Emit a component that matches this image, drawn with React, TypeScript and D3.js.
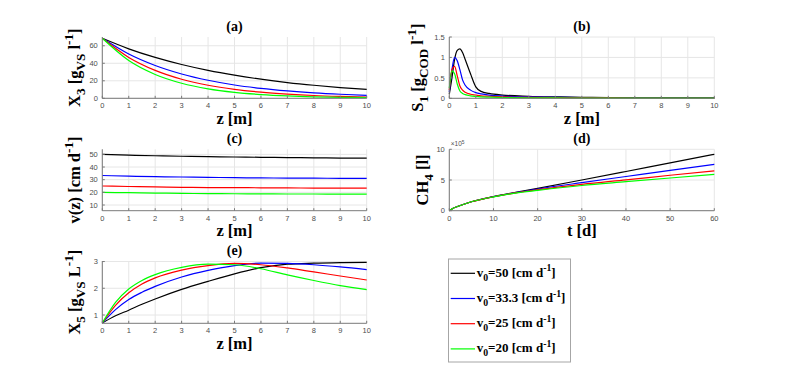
import React from "react";
import * as d3 from "d3";

// line colours, one per inlet velocity
const lineColors = ["#000000", "#0000ff", "#ff0000", "#00ff00"];
const legendSpeeds = ["50", "33.3", "25", "20"];

// (a) X3 along the reactor
const zA = [0, 1, 2, 3, 4, 5, 6, 7, 8, 9, 10];
const x3V50 = [68.5, 56.5, 46.7, 38.6, 31.9, 26.4, 21.8, 18.0, 14.9, 12.3, 10.1];
const x3V33 = [68.5, 50.6, 37.5, 27.8, 20.6, 15.2, 11.3, 8.4, 6.2, 4.6, 3.4];
const x3V25 = [68.5, 46.7, 31.9, 21.8, 14.9, 10.2, 7.0, 4.8, 3.2, 2.2, 1.5];
const x3V20 = [68.5, 43.1, 27.2, 17.2, 10.8, 6.8, 4.3, 2.7, 1.7, 1.1, 0.7];

// (b) S1
const zB = [0, 0.1, 0.2, 0.3, 0.4, 0.5, 0.6, 0.8, 1, 1.2, 1.5, 2, 3, 4, 5, 6, 8, 10];
const s1V50 = [0.1, 0.5, 0.95, 1.17, 1.21, 1.12, 0.95, 0.6, 0.28, 0.17, 0.12, 0.08, 0.05, 0.035, 0.025, 0.02, 0.012, 0.01];
const s1V33 = [0.15, 0.7, 1.0, 0.92, 0.7, 0.45, 0.32, 0.2, 0.14, 0.11, 0.08, 0.055, 0.035, 0.025, 0.018, 0.014, 0.01, 0.008];
const s1V25 = [0.2, 0.7, 0.78, 0.55, 0.3, 0.2, 0.15, 0.1, 0.08, 0.06, 0.05, 0.035, 0.022, 0.015, 0.01, 0.008, 0.005, 0.004];
const s1V20 = [0.25, 0.67, 0.6, 0.35, 0.18, 0.12, 0.09, 0.06, 0.045, 0.035, 0.028, 0.02, 0.012, 0.008, 0.006, 0.004, 0.003, 0.002];

// (c) velocity
const zC = [0, 1, 2, 3, 4, 5, 6, 7, 8, 9, 10];
const vV50 = [50, 49.4, 48.9, 48.5, 48.2, 47.9, 47.7, 47.5, 47.3, 47.1, 47.0];
const vV33 = [33.3, 32.8, 32.4, 32.1, 31.8, 31.6, 31.4, 31.3, 31.2, 31.1, 31.0];
const vV25 = [25, 24.6, 24.3, 24.0, 23.8, 23.7, 23.6, 23.5, 23.4, 23.3, 23.3];
const vV20 = [20, 19.7, 19.4, 19.2, 19.0, 18.9, 18.8, 18.7, 18.7, 18.6, 18.6];

// (d) methane, x10^5 l
const tD = [0, 1, 2, 5, 10, 15, 20, 30, 40, 50, 60];
const ch4V50 = [0, 0.45, 0.72, 1.45, 2.3, 3.0, 3.64, 5.0, 6.39, 7.79, 9.18];
const ch4V33 = [0, 0.45, 0.72, 1.45, 2.28, 2.95, 3.53, 4.57, 5.57, 6.57, 7.56];
const ch4V25 = [0, 0.45, 0.72, 1.45, 2.27, 2.9, 3.42, 4.3, 5.03, 5.77, 6.5];
const ch4V20 = [0, 0.45, 0.72, 1.45, 2.26, 2.86, 3.3, 4.1, 4.72, 5.33, 5.93];

// (e) X5
const zE = [0, 0.5, 1, 1.5, 2, 3, 4, 5, 6, 7, 8, 9, 10];
const x5V50 = [0.7, 0.97, 1.18, 1.4, 1.6, 1.96, 2.26, 2.54, 2.77, 2.9, 2.94, 2.96, 2.97];
const x5V33 = [0.7, 1.2, 1.58, 1.85, 2.07, 2.42, 2.67, 2.85, 2.94, 2.93, 2.88, 2.8, 2.7];
const x5V25 = [0.7, 1.36, 1.83, 2.16, 2.39, 2.68, 2.85, 2.93, 2.88, 2.76, 2.61, 2.46, 2.31];
const x5V20 = [0.7, 1.47, 1.97, 2.29, 2.51, 2.78, 2.9, 2.88, 2.73, 2.5, 2.29, 2.1, 1.95];

const zTicks = [0, 1, 2, 3, 4, 5, 6, 7, 8, 9, 10];
const tTicks = [0, 10, 20, 30, 40, 50, 60];

const serif = "'Liberation Serif', 'Times New Roman', serif";
const sans = "'Liberation Sans', Arial, sans-serif";

type Seg = { t: string; s?: "sub" | "sup" };

function Rich({ segs, size, subScale = 0.7, ...rest }: any) {
  let cur = 0;
  return (
    <text {...rest} fontSize={size} style={{ whiteSpace: "pre" }}>
      {segs.map((g: Seg, i: number) => {
        const target = g.s === "sub" ? size * 0.3 : g.s === "sup" ? -size * 0.42 : 0;
        const dy = target - cur;
        cur = target;
        return (
          <tspan key={i} dy={dy} fontSize={g.s ? size * subScale : size}>
            {g.t}
          </tspan>
        );
      })}
    </text>
  );
}

function Panel(props: any) {
  const { left, right, top, bottom, xDomain, yDomain, xTicks, yTicks, xs, ys, title, xLabel, yLabel, yLabelX, exponent } = props;
  const x = d3.scaleLinear().domain(xDomain).range([left, right]);
  const y = d3.scaleLinear().domain(yDomain).range([bottom, top]);
  const line = d3
    .line<number>()
    .x((_, i) => x(xs[i]))
    .y((d) => y(d))
    .curve(d3.curveMonotoneX);
  const axisColor = "#7a7a7a";
  return (
    <g>
      {xTicks.map((t: number) => (
        <line key={"gx" + t} x1={x(t)} x2={x(t)} y1={top} y2={bottom} stroke="#e6e6e6" strokeWidth={1} />
      ))}
      {yTicks.map((t: number) => (
        <line key={"gy" + t} x1={left} x2={right} y1={y(t)} y2={y(t)} stroke="#e6e6e6" strokeWidth={1} />
      ))}
      {ys.map((s: number[], i: number) => (
        <path key={"s" + i} d={line(s) || ""} fill="none" stroke={lineColors[i]} strokeWidth={1.2} />
      ))}
      <line x1={left} x2={left} y1={top} y2={bottom} stroke={axisColor} strokeWidth={1} />
      <line x1={left} x2={right} y1={bottom} y2={bottom} stroke={axisColor} strokeWidth={1} />
      {xTicks.map((t: number) => (
        <g key={"tx" + t}>
          <line x1={x(t)} x2={x(t)} y1={bottom} y2={bottom - 2.5} stroke={axisColor} />
          <text x={x(t)} y={bottom + 10} textAnchor="middle" fontFamily={sans} fontSize={7.5} fill="#4d4d4d">
            {t}
          </text>
        </g>
      ))}
      {yTicks.map((t: number) => (
        <g key={"ty" + t}>
          <line x1={left} x2={left + 2.5} y1={y(t)} y2={y(t)} stroke={axisColor} />
          <text x={left - 4.5} y={y(t) + 2.7} textAnchor="end" fontFamily={sans} fontSize={7.5} fill="#4d4d4d">
            {t}
          </text>
        </g>
      ))}
      {exponent && (
        <Rich
          x={left + 1.5}
          y={top - 3}
          size={6.5}
          subScale={0.75}
          fontFamily={sans}
          fill="#4d4d4d"
          segs={[{ t: "\u00d710" }, { t: exponent, s: "sup" }]}
        />
      )}
      <text x={(left + right) / 2} y={top - 6} textAnchor="middle" fontFamily={serif} fontWeight="bold" fontSize={14}>
        {title}
      </text>
      <text x={(left + right) / 2} y={bottom + 25.5} textAnchor="middle" fontFamily={serif} fontWeight="bold" fontSize={16.5}>
        {xLabel}
      </text>
      <Rich
        transform={`translate(${yLabelX},${(top + bottom) / 2}) rotate(-90)`}
        textAnchor="middle"
        size={16.5}
        subScale={0.8}
        fontFamily={serif}
        fontWeight="bold"
        segs={yLabel}
      />
    </g>
  );
}

export default function App() {
  const legendTop = 259;
  return (
    <svg width={789} height={375} style={{ position: "absolute", left: 0, top: 0, background: "#fff" }}>
      <Panel
        left={102.3} right={366.7} top={37} bottom={98.3}
        xDomain={[0, 10]} yDomain={[0, 70]} xTicks={zTicks} yTicks={[0, 20, 40, 60]}
        xs={zA} ys={[x3V50, x3V33, x3V25, x3V20]}
        title="(a)" xLabel="z [m]" yLabelX={80}
        yLabel={[{ t: "X" }, { t: "3", s: "sub" }, { t: " [g" }, { t: "VS", s: "sub" }, { t: " l" }, { t: "-1", s: "sup" }, { t: "]" }]}
      />
      <Panel
        left={449.3} right={714.3} top={37} bottom={98.3}
        xDomain={[0, 10]} yDomain={[0, 1.5]} xTicks={zTicks} yTicks={[0, 0.5, 1, 1.5]}
        xs={zB} ys={[s1V50, s1V33, s1V25, s1V20]}
        title="(b)" xLabel="z [m]" yLabelX={423}
        yLabel={[{ t: "S" }, { t: "1", s: "sub" }, { t: " [g" }, { t: "COD", s: "sub" }, { t: " l" }, { t: "-1", s: "sup" }, { t: "]" }]}
      />
      <Panel
        left={102.3} right={366.7} top={149.3} bottom={210.7}
        xDomain={[0, 10]} yDomain={[5.5, 54]} xTicks={zTicks} yTicks={[10, 20, 30, 40, 50]}
        xs={zC} ys={[vV50, vV33, vV25, vV20]}
        title="(c)" xLabel="z [m]" yLabelX={80}
        yLabel={[{ t: "v(z) [cm d" }, { t: "-1", s: "sup" }, { t: "]" }]}
      />
      <Panel
        left={449.3} right={714.3} top={149.3} bottom={210.7}
        xDomain={[0, 60]} yDomain={[0, 10]} xTicks={tTicks} yTicks={[0, 5, 10]}
        xs={tD} ys={[ch4V50, ch4V33, ch4V25, ch4V20]}
        title="(d)" xLabel="t [d]" yLabelX={428} exponent="5"
        yLabel={[{ t: "CH" }, { t: "4", s: "sub" }, { t: " [l]" }]}
      />
      <Panel
        left={102.3} right={366.7} top={261} bottom={323.3}
        xDomain={[0, 10]} yDomain={[0.69, 3.02]} xTicks={zTicks} yTicks={[1, 2, 3]}
        xs={zE} ys={[x5V50, x5V33, x5V25, x5V20]}
        title="(e)" xLabel="z [m]" yLabelX={80}
        yLabel={[{ t: "X" }, { t: "5", s: "sub" }, { t: " [g" }, { t: "VS", s: "sub" }, { t: " L" }, { t: "-1", s: "sup" }, { t: "]" }]}
      />
      <rect x={448.5} y={legendTop} width={122} height={103} fill="#fff" stroke="#a6a6a6" strokeWidth={1} />
      {legendSpeeds.map((v, i) => {
        const ly = 273.3 + i * 25.2;
        return (
          <g key={"lg" + i}>
            <line x1={450.7} x2={475} y1={ly} y2={ly} stroke={lineColors[i]} strokeWidth={1.2} />
            <Rich
              x={476.7}
              y={ly + 3.5}
              size={13}
              subScale={0.75}
              fontFamily={serif}
              fontWeight="bold"
              segs={[{ t: "v" }, { t: "0", s: "sub" }, { t: "=" + v + " [cm d" }, { t: "-1", s: "sup" }, { t: "]" }]}
            />
          </g>
        );
      })}
    </svg>
  );
}
